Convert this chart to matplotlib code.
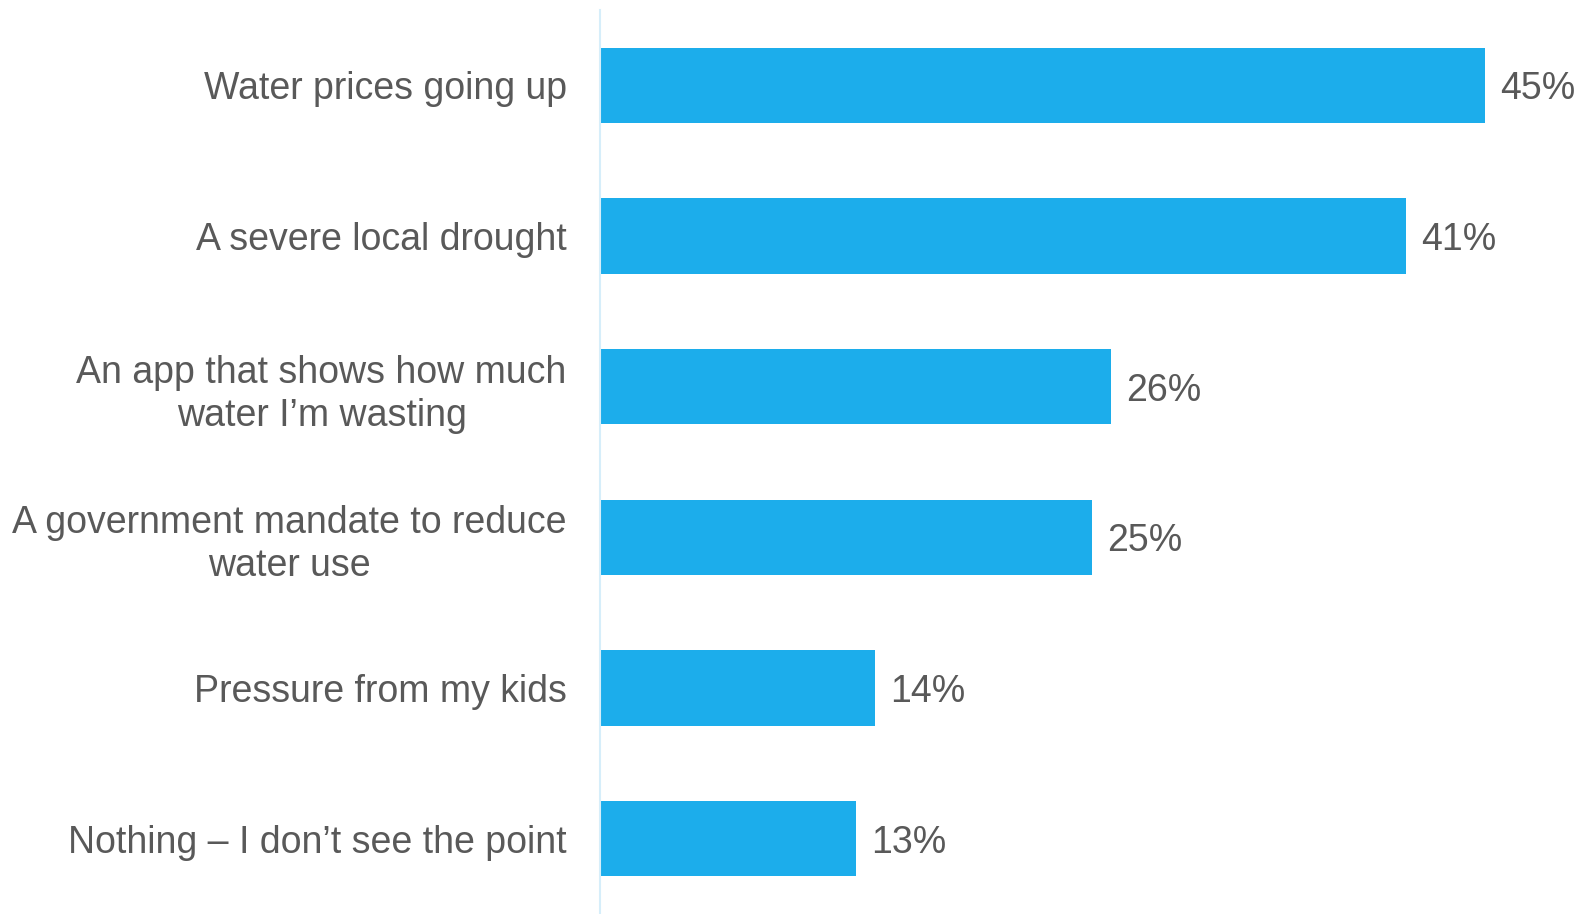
import matplotlib.pyplot as plt

plt.rcParams['font.family'] = ['Liberation Sans', 'DejaVu Sans']

# survey answers, top to bottom
labels = [
    "Water prices going up",
    "A severe local drought",
    "An app that shows how much\nwater I\u2019m wasting",
    "A government mandate to reduce\nwater use",
    "Pressure from my kids",
    "Nothing \u2013 I don\u2019t see the point",
]
values = [45, 41, 26, 25, 14, 13]

bar_color = "#1cadeb"
text_color = "#595959"

fig = plt.figure(figsize=(15.87, 9.14), dpi=100)
ax = fig.add_axes([600 / 1587, 0, 1 - 600 / 1587, 904 / 914])

pos = range(len(values))
ax.barh(pos, values, height=0.5, color=bar_color)
ax.set_ylim(5.5, -0.5)
ax.set_xlim(0, 50.2)

for y, v in zip(pos, values):
    ax.annotate(f"{v}%", (v, y), xytext=(11, 0), textcoords="offset points",
                va="center_baseline", ha="left", fontsize=27, color=text_color)

ax.set_yticks(list(pos))
ax.set_yticklabels(labels, fontsize=27, color=text_color, multialignment="center",
                   linespacing=1.25)
ax.tick_params(axis="y", length=0, pad=24)
ax.set_xticks([])

for s in ["top", "right", "bottom"]:
    ax.spines[s].set_visible(False)
ax.spines["left"].set_color("#d6eefa")
ax.spines["left"].set_linewidth(1.5)

fig.savefig("out.png", dpi=100)
